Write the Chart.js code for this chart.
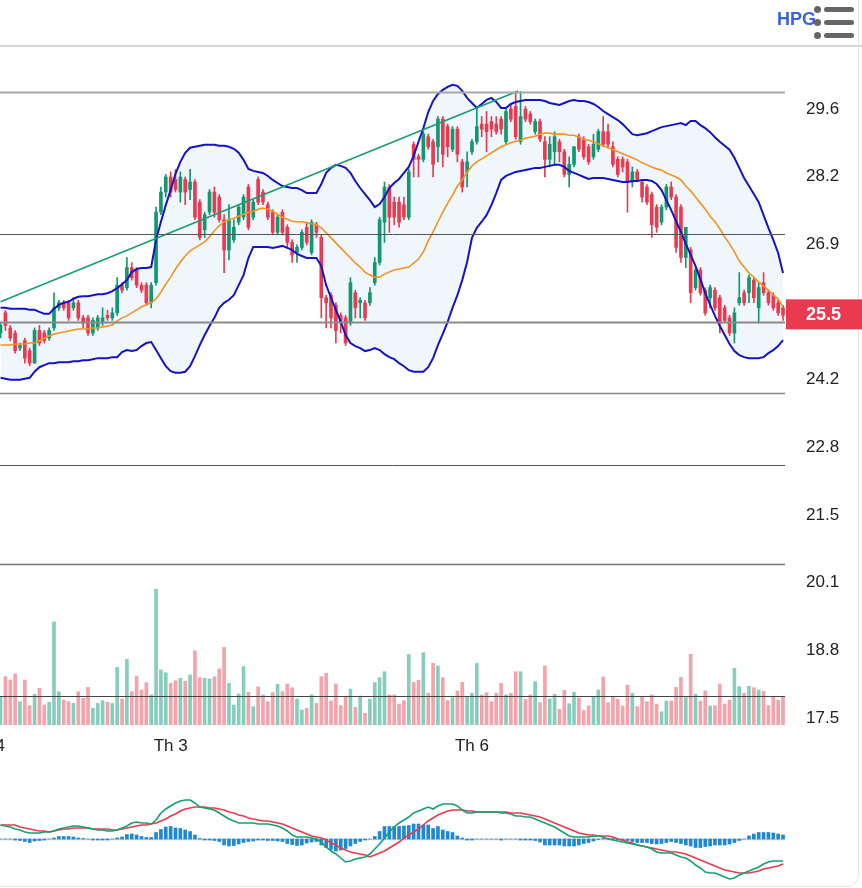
<!DOCTYPE html>
<html><head><meta charset="utf-8">
<script src="https://cdn.jsdelivr.net/npm/chart.js@4.4.1/dist/chart.umd.min.js"></script>
<style>
html,body{margin:0;padding:0;background:#fff;width:862px;height:888px;overflow:hidden;position:relative;font-family:'Liberation Sans',Arial,sans-serif;}
#frame{position:absolute;left:-30px;top:-30px;width:889px;height:917px;border:1px solid #e3e3e3;border-radius:12px;box-sizing:border-box;}
#topline{position:absolute;left:0;top:45px;width:862px;height:2px;background:#d8d8d8;}
#c1{position:absolute;left:0;top:0;}
#c2{position:absolute;left:0;top:760px;}
#title{position:absolute;left:777px;top:9px;font-weight:bold;font-size:18px;color:#3a5fe3;font-family:'Liberation Sans',Arial,sans-serif;}
.bar{position:absolute;left:824px;width:30px;height:5px;border-radius:3px;background:#666;}
.dot{position:absolute;left:814px;width:7px;height:7px;border-radius:4px;background:#666;}
</style></head>
<body>
<div id="frame"></div>
<div id="topline"></div>
<canvas id="c1" width="862" height="760"></canvas>
<canvas id="c2" width="862" height="128"></canvas>
<div id="title">HPG</div>
<div class="dot" style="top:6px"></div><div class="bar" style="top:7px"></div>
<div class="dot" style="top:19px"></div><div class="bar" style="top:20px"></div>
<div class="dot" style="top:32px"></div><div class="bar" style="top:33px"></div>
<script>
// ---------- DATA ----------
const xTickIdx = [-3, 35, 97];
const xTickLabels = ['2024', 'Th 3', 'Th 6'];
const priceTickValues = [17.5, 18.844, 20.189, 21.533, 22.878, 24.222, 25.567, 26.911, 28.256, 29.6];
const priceTickLabels = ['17.5', '18.8', '20.1', '21.5', '22.8', '24.2', '25.5', '26.9', '28.2', '29.6'];
const levelPrices = [29.94, 27.11, 25.36, 23.95, 22.53, 20.55, 17.93];
const trendIdx = [0, 106.5];
const trendPrice = [25.77, 29.96];

const opens = [
25.15,25.55,25.25,25.15,24.85,25.00,24.80,24.55,25.20,25.15,
25.05,25.25,25.65,25.75,25.75,25.65,25.75,25.45,25.45,25.15,
25.25,25.35,25.50,25.45,25.55,26.10,26.05,26.45,26.40,26.10,
26.10,25.75,26.15,27.55,27.95,28.25,28.20,27.95,28.20,28.00,
28.15,27.75,27.20,27.55,27.95,27.85,27.40,26.80,27.00,27.35,
27.45,28.05,27.45,28.20,27.95,27.70,27.55,27.15,27.55,27.25,
26.95,26.75,26.85,27.25,26.75,27.30,27.05,25.85,25.90,25.70,
25.50,25.45,25.35,25.95,25.75,25.75,25.75,26.15,26.55,27.35,
28.05,27.75,27.75,27.70,27.45,28.90,28.65,28.60,29.05,28.95,
28.85,29.40,29.25,28.80,29.20,28.55,28.35,28.75,28.95,29.30,
29.30,29.35,29.30,29.40,28.95,29.60,29.65,28.95,29.60,29.50,
29.15,29.35,28.95,28.60,28.75,28.95,28.75,28.30,28.50,29.05,
29.00,28.85,28.65,28.80,29.15,29.15,28.85,28.60,28.60,28.55,
28.15,28.35,28.15,28.05,27.90,27.65,27.35,27.65,28.05,27.85,
27.65,26.65,26.80,26.05,26.40,26.00,25.85,26.00,25.85,25.65,
25.45,25.15,25.75,25.95,25.95,26.20,25.65,26.15,25.95,25.90,
25.75,25.65];
const highs = [
25.35,25.60,25.30,25.20,24.95,25.05,24.85,25.25,25.30,25.20,
25.25,25.95,25.80,25.80,25.80,25.85,25.80,25.50,25.50,25.45,
25.50,25.65,25.60,25.65,26.25,26.15,26.65,26.55,26.45,26.15,
26.15,26.15,27.65,28.05,28.30,28.35,28.40,28.35,28.25,28.40,
28.20,27.80,27.55,28.00,28.05,27.90,27.50,27.70,27.40,27.70,
27.90,28.10,27.80,28.25,28.00,27.75,27.60,27.50,27.60,27.30,
27.00,26.90,27.20,27.35,27.40,27.35,27.10,25.90,25.95,25.75,
25.55,25.50,26.25,26.00,25.85,25.80,26.05,26.65,27.45,28.15,
28.10,27.85,27.85,27.85,28.40,28.95,28.70,29.15,29.10,29.00,
29.45,29.45,29.30,29.25,29.25,28.60,28.75,29.00,29.60,29.45,
29.55,29.45,29.45,29.45,29.60,29.70,29.95,29.95,29.65,29.55,
29.40,29.40,29.05,29.05,29.15,29.00,28.80,28.65,28.85,29.10,
29.05,28.90,29.10,29.20,29.45,29.30,28.95,28.65,28.65,28.60,
28.45,28.40,28.20,28.10,27.95,27.70,27.70,28.10,28.15,27.90,
27.70,27.25,26.85,26.45,26.45,26.05,26.10,26.05,25.90,25.70,
25.50,25.65,26.35,26.00,26.30,26.25,26.15,26.35,26.00,25.95,
25.80,25.70];
const lows = [
25.05,25.20,25.00,24.75,24.80,24.55,24.50,24.55,24.90,24.95,
25.00,25.20,25.60,25.60,25.40,25.60,25.40,25.25,25.10,25.10,
25.20,25.30,25.40,25.40,25.50,25.95,26.00,26.20,26.05,25.95,
25.70,25.65,26.10,27.50,27.85,27.85,27.95,27.75,27.70,27.80,
27.40,27.00,27.05,27.50,27.45,27.35,26.35,26.60,26.95,27.30,
27.40,27.20,27.40,27.70,27.70,27.40,27.10,27.10,27.10,26.85,
26.55,26.55,26.80,26.90,26.70,27.05,25.45,25.25,25.25,24.95,
25.15,24.90,25.30,25.45,25.45,25.40,25.70,26.10,26.50,26.95,
27.15,27.30,27.25,27.40,27.40,28.25,28.25,28.55,28.80,28.25,
28.55,28.45,28.65,28.75,28.55,27.95,28.05,28.70,28.90,29.05,
28.75,29.05,29.10,29.10,28.90,29.35,29.00,28.90,29.35,29.30,
29.10,28.95,28.25,28.45,28.50,28.55,28.25,28.05,28.45,28.75,
28.60,28.50,28.60,28.75,28.85,28.85,28.45,28.25,28.35,27.55,
28.05,28.15,27.75,27.70,27.05,27.15,27.30,27.60,27.80,26.75,
26.55,26.45,25.75,26.00,25.90,25.50,25.65,25.60,25.15,25.35,
25.10,24.95,25.70,25.70,25.75,25.75,25.35,25.90,25.70,25.60,
25.50,25.40];
const closes = [
25.30,25.30,25.05,24.80,24.90,24.65,24.55,25.20,24.95,25.00,
25.20,25.65,25.75,25.65,25.45,25.75,25.45,25.35,25.15,25.40,
25.45,25.45,25.45,25.55,26.10,26.00,26.45,26.25,26.10,26.00,
25.75,26.10,27.55,27.95,28.25,27.95,28.00,28.25,27.95,28.15,
27.45,27.05,27.50,27.95,27.55,27.40,26.80,27.40,27.25,27.65,
27.85,27.25,27.75,27.75,27.75,27.45,27.15,27.45,27.15,26.95,
26.70,26.85,27.15,26.95,27.35,27.15,25.85,25.75,25.45,25.20,
25.35,24.95,26.15,25.65,25.80,25.45,25.95,26.55,27.40,28.05,
27.45,27.45,27.35,27.45,28.35,28.60,28.60,29.10,28.85,28.50,
29.40,28.70,28.85,29.20,28.70,28.05,28.55,28.95,29.25,29.20,
29.15,29.20,29.15,29.20,29.55,29.40,29.05,29.45,29.40,29.35,
29.35,29.00,28.60,28.90,29.05,28.75,28.30,28.50,28.85,28.80,
28.65,28.55,28.90,29.15,28.90,28.90,28.50,28.30,28.45,28.15,
28.35,28.20,27.85,27.75,27.30,27.25,27.65,28.05,27.85,26.85,
26.65,27.25,25.95,26.40,25.95,25.55,26.05,25.65,25.35,25.40,
25.15,25.55,25.85,25.75,26.25,25.85,26.05,25.95,25.75,25.65,
25.55,25.50];
const volumes = [
17.3,30.2,28.1,31.9,14.6,28.1,12.1,19.2,22.9,12.5,
14.2,64.4,20.8,15.6,14.6,13.5,20.8,16.7,23.5,10.4,
13.5,15.2,14.2,13.5,36.0,16.3,41.0,20.8,30.6,21.9,
26.5,18.8,84.8,34.4,32.7,26.0,27.7,29.2,27.3,31.3,
46.3,29.6,29.2,28.8,30.2,35.0,48.5,26.0,12.5,19.4,
36.5,20.4,11.5,23.8,18.8,14.6,20.2,25.4,20.8,25.6,
23.3,16.3,9.4,10.4,18.8,13.5,30.2,32.3,15.0,25.6,
12.1,17.7,22.5,11.0,18.1,7.3,16.3,26.5,29.6,33.3,
18.8,18.8,13.1,15.2,44.0,26.7,27.9,45.2,19.8,38.5,
36.9,29.6,15.2,17.1,21.3,26.7,17.3,19.8,38.5,18.8,
20.2,14.6,19.8,26.0,18.8,19.8,33.3,33.3,16.0,18.8,
27.1,14.0,36.9,16.3,19.2,9.8,21.7,13.3,20.4,16.9,
9.0,11.9,17.7,21.9,30.0,14.0,17.7,16.0,11.9,24.8,
19.8,11.5,17.7,14.6,18.8,13.1,8.3,15.0,15.0,23.5,
29.8,17.1,44.2,19.2,15.0,21.3,11.9,12.1,25.6,13.1,
15.6,35.4,24.0,19.8,24.2,23.3,21.9,21.0,12.1,17.7,
15.6,17.7];
const bbUpper = [
25.65,25.65,25.63,25.63,25.63,25.63,25.61,25.61,25.57,25.53,
25.53,25.63,25.71,25.75,25.77,25.83,25.87,25.88,25.88,25.90,
25.92,25.92,25.94,25.98,26.04,26.12,26.20,26.36,26.42,26.44,
26.44,26.46,27.00,27.36,27.69,27.99,28.31,28.55,28.73,28.83,
28.85,28.87,28.89,28.89,28.89,28.87,28.87,28.85,28.81,28.73,
28.59,28.41,28.37,28.35,28.33,28.27,28.19,28.13,28.07,28.05,
28.03,28.03,27.99,27.93,27.93,27.93,28.11,28.33,28.43,28.49,
28.47,28.43,28.33,28.17,28.03,27.91,27.79,27.65,27.71,27.85,
28.03,28.13,28.21,28.33,28.45,28.67,28.95,29.22,29.54,29.76,
29.90,29.98,30.04,30.08,30.06,29.96,29.82,29.72,29.62,29.70,
29.78,29.82,29.74,29.62,29.62,29.70,29.74,29.76,29.78,29.78,
29.78,29.78,29.76,29.72,29.70,29.68,29.72,29.76,29.78,29.76,
29.76,29.74,29.70,29.64,29.56,29.50,29.44,29.38,29.30,29.20,
29.10,29.08,29.10,29.12,29.16,29.20,29.24,29.26,29.28,29.30,
29.32,29.28,29.36,29.36,29.28,29.22,29.14,29.04,28.95,28.87,
28.79,28.63,28.43,28.23,28.07,27.91,27.75,27.49,27.24,27.00,
26.74,26.34];
const bbMiddle = [
24.91,24.91,24.91,24.93,24.93,24.93,24.95,24.95,24.99,25.05,
25.09,25.13,25.15,25.17,25.19,25.21,25.23,25.23,25.23,25.25,
25.25,25.27,25.29,25.31,25.39,25.45,25.49,25.55,25.61,25.67,
25.71,25.75,25.83,25.96,26.12,26.26,26.42,26.56,26.68,26.78,
26.84,26.90,26.96,27.06,27.18,27.28,27.36,27.40,27.43,27.47,
27.51,27.55,27.57,27.61,27.63,27.61,27.57,27.51,27.45,27.41,
27.37,27.36,27.36,27.34,27.32,27.30,27.24,27.14,27.04,26.94,
26.84,26.74,26.64,26.54,26.46,26.36,26.30,26.26,26.26,26.32,
26.36,26.40,26.42,26.44,26.46,26.54,26.62,26.76,26.98,27.16,
27.36,27.55,27.73,27.89,28.07,28.19,28.35,28.47,28.55,28.61,
28.67,28.73,28.79,28.85,28.89,28.93,28.96,28.98,29.02,29.04,
29.06,29.10,29.12,29.12,29.10,29.10,29.10,29.08,29.08,29.04,
29.00,28.98,28.95,28.91,28.87,28.83,28.79,28.75,28.71,28.67,
28.63,28.59,28.53,28.49,28.45,28.41,28.39,28.33,28.29,28.25,
28.19,28.07,27.97,27.85,27.73,27.61,27.47,27.36,27.22,27.06,
26.92,26.76,26.58,26.46,26.34,26.26,26.16,26.08,26.00,25.90,
25.83,25.67];
const bbLower = [
24.26,24.24,24.22,24.22,24.22,24.24,24.26,24.38,24.47,24.51,
24.55,24.55,24.57,24.57,24.57,24.59,24.59,24.61,24.61,24.63,
24.65,24.65,24.65,24.67,24.67,24.77,24.81,24.79,24.81,24.89,
24.95,24.97,24.81,24.65,24.49,24.39,24.36,24.36,24.38,24.49,
24.69,24.91,25.11,25.29,25.45,25.65,25.75,25.81,25.90,26.10,
26.30,26.64,26.86,26.86,26.86,26.86,26.84,26.86,26.88,26.84,
26.80,26.72,26.68,26.64,26.64,26.64,26.48,26.10,25.85,25.61,
25.37,25.11,24.95,24.89,24.85,24.79,24.81,24.85,24.81,24.73,
24.67,24.63,24.55,24.49,24.41,24.38,24.38,24.38,24.47,24.65,
24.91,25.13,25.37,25.65,25.90,26.20,26.56,27.04,27.24,27.36,
27.49,27.69,27.93,28.19,28.27,28.31,28.35,28.37,28.39,28.41,
28.43,28.43,28.45,28.47,28.49,28.49,28.45,28.37,28.33,28.29,
28.25,28.21,28.23,28.23,28.23,28.21,28.19,28.17,28.15,28.15,
28.17,28.17,28.19,28.19,28.17,28.11,27.99,27.79,27.59,27.37,
27.16,26.92,26.70,26.48,26.22,25.94,25.71,25.49,25.29,25.11,
24.93,24.79,24.71,24.67,24.65,24.65,24.65,24.67,24.75,24.81,
24.89,25.01];
const macdLine = [
0.28,0.26,0.24,0.20,0.18,0.14,0.12,0.12,0.12,0.14,
0.14,0.16,0.20,0.22,0.24,0.26,0.26,0.24,0.22,0.20,
0.18,0.18,0.16,0.16,0.18,0.22,0.26,0.32,0.34,0.32,
0.32,0.30,0.38,0.52,0.60,0.66,0.72,0.76,0.78,0.78,
0.72,0.64,0.62,0.60,0.58,0.52,0.46,0.40,0.36,0.32,
0.32,0.32,0.32,0.30,0.30,0.30,0.28,0.26,0.22,0.16,
0.08,0.04,0.04,0.04,0.02,0.00,-0.06,-0.16,-0.24,-0.30,
-0.38,-0.46,-0.44,-0.40,-0.38,-0.36,-0.30,-0.20,-0.10,0.02,
0.14,0.24,0.32,0.38,0.44,0.52,0.56,0.60,0.64,0.60,
0.66,0.70,0.70,0.70,0.66,0.58,0.52,0.52,0.54,0.54,
0.54,0.54,0.54,0.52,0.52,0.50,0.46,0.46,0.44,0.44,
0.40,0.36,0.32,0.28,0.24,0.18,0.12,0.06,0.04,0.04,
0.04,0.04,0.06,0.06,0.04,0.00,-0.02,-0.04,-0.06,-0.08,
-0.10,-0.12,-0.14,-0.16,-0.20,-0.26,-0.28,-0.28,-0.28,-0.32,
-0.36,-0.38,-0.44,-0.52,-0.58,-0.66,-0.68,-0.68,-0.72,-0.76,
-0.80,-0.78,-0.72,-0.68,-0.64,-0.60,-0.56,-0.50,-0.46,-0.44,
-0.44,-0.44];
const signalLine = [
0.28,0.28,0.28,0.28,0.24,0.22,0.20,0.18,0.16,0.16,
0.14,0.16,0.18,0.20,0.20,0.22,0.22,0.22,0.22,0.20,
0.20,0.20,0.20,0.18,0.18,0.20,0.22,0.24,0.26,0.28,
0.28,0.30,0.32,0.36,0.40,0.46,0.50,0.56,0.60,0.62,
0.64,0.64,0.64,0.62,0.62,0.60,0.58,0.54,0.52,0.48,
0.46,0.42,0.40,0.38,0.36,0.36,0.34,0.32,0.30,0.26,
0.22,0.18,0.14,0.10,0.06,0.04,0.02,-0.02,-0.08,-0.12,
-0.18,-0.22,-0.26,-0.28,-0.30,-0.32,-0.36,-0.32,-0.28,-0.24,
-0.18,-0.12,-0.06,0.02,0.08,0.14,0.20,0.28,0.36,0.42,
0.48,0.52,0.56,0.58,0.58,0.58,0.56,0.56,0.54,0.54,
0.54,0.54,0.54,0.54,0.54,0.52,0.52,0.52,0.50,0.48,
0.46,0.44,0.40,0.36,0.32,0.28,0.24,0.20,0.16,0.12,
0.10,0.08,0.08,0.06,0.06,0.06,0.04,0.00,-0.02,-0.06,
-0.08,-0.12,-0.14,-0.16,-0.18,-0.20,-0.22,-0.24,-0.26,-0.26,
-0.28,-0.30,-0.34,-0.38,-0.42,-0.46,-0.50,-0.54,-0.58,-0.62,
-0.64,-0.66,-0.68,-0.68,-0.68,-0.66,-0.64,-0.60,-0.58,-0.56,
-0.54,-0.50];
const macdHist = [
0,0,0,-0.02,-0.03,-0.05,-0.07,-0.04,-0.03,-0.02,
0,0.02,0.05,0.05,0.05,0.04,0.02,0.01,0,-0.02,
-0.02,-0.02,-0.02,0,0.02,0.04,0.09,0.10,0.08,0.05,
0.03,0.03,0.13,0.19,0.24,0.25,0.22,0.21,0.18,0.15,
0.08,0.01,-0.02,-0.02,-0.03,-0.05,-0.12,-0.14,-0.13,-0.10,
-0.07,-0.05,-0.04,-0.02,-0.02,-0.03,-0.03,-0.04,-0.05,-0.09,
-0.11,-0.13,-0.12,-0.08,-0.06,-0.05,-0.12,-0.17,-0.21,-0.24,
-0.22,-0.19,-0.14,-0.09,-0.05,-0.02,0,0.05,0.15,0.25,
0.25,0.25,0.25,0.26,0.27,0.30,0.30,0.28,0.28,0.21,
0.25,0.18,0.15,0.13,0.06,0.02,-0.02,-0.02,0,0,
0,0,0,-0.02,0,0,0,-0.02,-0.02,-0.02,
-0.03,-0.06,-0.12,-0.12,-0.12,-0.12,-0.14,-0.14,-0.14,-0.12,
-0.09,-0.07,-0.04,-0.01,0.01,0.01,0.01,-0.01,-0.03,-0.03,
-0.05,-0.07,-0.07,-0.07,-0.09,-0.10,-0.09,-0.07,-0.05,-0.07,
-0.09,-0.12,-0.14,-0.17,-0.17,-0.15,-0.14,-0.12,-0.12,-0.12,
-0.10,-0.07,-0.03,0,0.06,0.10,0.13,0.13,0.13,0.12,
0.10,0.08];

// ---------- STYLE ----------
const GREEN = '#12976f', RED = '#ea3a50', VGREEN = '#86cebc', VRED = '#f5a2ab';
const levelColors = ['#a8a8a8', '#555555', '#8a8a8a', '#8a8a8a', '#555555', '#777777', '#444444'];
const levelWidths = [2, 1, 2, 1.5, 1, 1.5, 1];
const X_MIN = -0.11, X_MAX = 161.41;

Chart.defaults.font.family = "'Liberation Sans', Arial, sans-serif";
Chart.defaults.font.size = 17;
Chart.defaults.color = '#222';

const N = closes.length;
const ids = closes.map((_, i) => i);
const isUp = i => closes[i] >= opens[i];
const pts = arr => arr.map((v, i) => ({ x: i, y: v }));

const levelPlugin = {
  id: 'levels',
  afterDatasetsDraw(chart) {
    const { ctx, chartArea, scales } = chart;
    ctx.save();
    levelPrices.forEach((v, k) => {
      const y = Math.round(scales.y.getPixelForValue(v)) + 0.5;
      ctx.strokeStyle = levelColors[k];
      ctx.lineWidth = levelWidths[k];
      ctx.beginPath(); ctx.moveTo(chartArea.left, y); ctx.lineTo(chartArea.right, y); ctx.stroke();
    });
    ctx.restore();
  }
};
const priceBoxPlugin = {
  id: 'pricebox',
  afterDraw(chart) {
    const { ctx, chartArea, scales } = chart;
    const last = closes[N - 1];
    const y = scales.y.getPixelForValue(last);
    ctx.save();
    ctx.fillStyle = '#ea3a50';
    ctx.fillRect(chartArea.right + 1, y - 16, chart.width - chartArea.right - 1, 30);
    ctx.fillStyle = '#fff';
    ctx.font = "bold 18px 'Liberation Sans', Arial, sans-serif";
    ctx.textAlign = 'left'; ctx.textBaseline = 'middle';
    ctx.fillText(last.toFixed(1), chartArea.right + 21, y);
    ctx.restore();
  }
};

new Chart(document.getElementById('c1'), {
  type: 'line',
  data: {
    datasets: [
      { type: 'line', label: 'BB upper', data: pts(bbUpper), borderColor: '#1414c6', borderWidth: 2,
        pointRadius: 0, fill: '+1', backgroundColor: 'rgba(205,226,246,0.32)', order: 3 },
      { type: 'line', label: 'BB lower', data: pts(bbLower), borderColor: '#1414c6', borderWidth: 2,
        pointRadius: 0, fill: false, order: 3 },
      { type: 'line', label: 'SMA', data: pts(bbMiddle), borderColor: '#f7921e', borderWidth: 1.6,
        pointRadius: 0, fill: false, order: 2 },
      { type: 'line', label: 'Trend', data: trendIdx.map((x, k) => ({ x, y: trendPrice[k] })),
        borderColor: '#199b78', borderWidth: 1.6, pointRadius: 0, fill: false, order: 1 },
      { type: 'bar', label: 'wick', data: ids.map(i => ({ x: i, y: [lows[i], highs[i]] })),
        backgroundColor: c => isUp(c.dataIndex) ? GREEN : RED, barThickness: 1, grouped: false, order: 11 },
      { type: 'bar', label: 'body', data: ids.map(i => ({ x: i, y: [opens[i], closes[i]] })),
        backgroundColor: c => isUp(c.dataIndex) ? GREEN : RED, barThickness: 3, minBarLength: 1, grouped: false, order: 10 },
      { type: 'bar', label: 'volume', yAxisID: 'yv', data: pts(volumes),
        backgroundColor: c => isUp(c.dataIndex) ? VGREEN : VRED, barThickness: 3, grouped: false, order: 12 }
    ]
  },
  options: {
    responsive: false, animation: false, devicePixelRatio: 1,
    layout: { padding: { top: 47, left: 0, right: 0, bottom: 0 }, autoPadding: false },
    plugins: { legend: { display: false }, tooltip: { enabled: false }, filler: { drawTime: 'beforeDatasetsDraw' } },
    elements: { line: { tension: 0 } },
    scales: {
      x: {
        type: 'linear', min: X_MIN, max: X_MAX, offset: false, bounds: 'data',
        grid: { display: false }, border: { display: false },
        ticks: { autoSkip: false, maxRotation: 0, padding: 3, color: '#222', font: { size: 17 },
          callback: (v, i) => xTickLabels[i] },
        afterBuildTicks: s => { s.ticks = xTickIdx.map(v => ({ value: v })); },
        afterFit: s => { s.height = 35; s.paddingLeft = 0; s.paddingRight = 0; }
      },
      y: {
        type: 'linear', position: 'right', min: 17.361, max: 30.832, bounds: 'data',
        grid: { display: false, drawTicks: false }, border: { display: false },
        ticks: { padding: 21, color: '#222', font: { size: 17 }, callback: (v, i) => priceTickLabels[i] },
        afterBuildTicks: s => { s.ticks = priceTickValues.map(v => ({ value: v })); },
        afterFit: s => { s.width = 77; s.paddingTop = 0; s.paddingBottom = 0; }
      },
      yv: { type: 'linear', display: false, min: 0, max: 423.75 }
    }
  },
  plugins: [levelPlugin, priceBoxPlugin]
});

const zeroPlugin = {
  id: 'zero',
  beforeDatasetsDraw(chart) {
    const { ctx, chartArea, scales } = chart;
    const y = Math.round(scales.y.getPixelForValue(0)) + 0.5;
    ctx.save();
    ctx.strokeStyle = '#cfcfcf'; ctx.lineWidth = 1.5;
    ctx.beginPath(); ctx.moveTo(chartArea.left, y); ctx.lineTo(chartArea.right, y); ctx.stroke();
    ctx.restore();
  }
};

new Chart(document.getElementById('c2'), {
  type: 'line',
  data: {
    datasets: [
      { type: 'line', label: 'MACD', data: pts(macdLine), borderColor: '#16a070', borderWidth: 1.6, pointRadius: 0, order: 1 },
      { type: 'line', label: 'Signal', data: pts(signalLine), borderColor: '#ea3a50', borderWidth: 1.6, pointRadius: 0, order: 2 },
      { type: 'bar', label: 'Hist', data: pts(macdHist), backgroundColor: '#1f88d2', barThickness: 3, grouped: false, order: 3 }
    ]
  },
  options: {
    responsive: false, animation: false, devicePixelRatio: 1,
    layout: { padding: { top: 0, left: 0, right: 77, bottom: 0 }, autoPadding: false },
    plugins: { legend: { display: false }, tooltip: { enabled: false } },
    scales: {
      x: { type: 'linear', min: X_MIN, max: X_MAX, offset: false, display: false },
      y: { type: 'linear', min: -0.98, max: 1.58, display: false }
    }
  },
  plugins: [zeroPlugin]
});
</script>
</body></html>
